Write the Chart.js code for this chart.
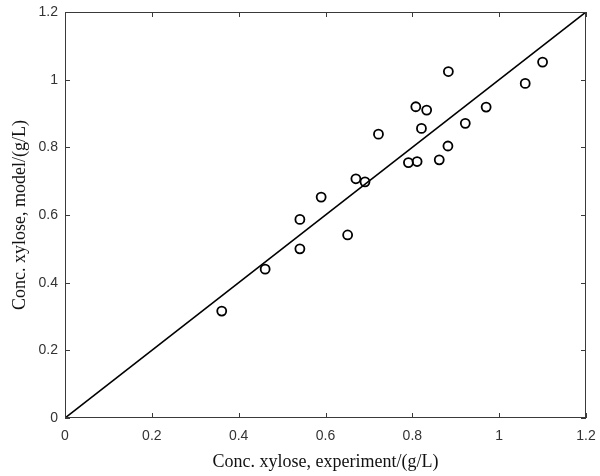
<!DOCTYPE html>
<html>
<head>
<meta charset="utf-8">
<script src="https://cdn.jsdelivr.net/npm/chart.js@4/dist/chart.umd.min.js"></script>
<style>
  html, body { margin: 0; padding: 0; background: #fff; }
  #wrap { width: 600px; height: 476px; }
</style>
</head>
<body>
<div id="wrap"><canvas id="chart" width="600" height="476"></canvas></div>
<script>
// measured vs model xylose (g/L)
const xExp   = [0.361, 0.461, 0.541, 0.541, 0.590, 0.651, 0.670, 0.691, 0.722, 0.791, 0.811, 0.808, 0.833, 0.821, 0.862, 0.882, 0.883, 0.922, 0.970, 1.060, 1.100];
const yModel = [0.316, 0.440, 0.587, 0.500, 0.653, 0.541, 0.707, 0.698, 0.839, 0.755, 0.758, 0.920, 0.910, 0.856, 0.763, 0.804, 1.024, 0.871, 0.919, 0.989, 1.052];

// y = x reference line
const lineX = [0, 1.2];
const lineY = [0, 1.2];

const tickValues = [0, 0.2, 0.4, 0.6, 0.8, 1, 1.2];
const tickLabels = ['0', '0.2', '0.4', '0.6', '0.8', '1', '1.2'];

const axisColor = '#3a3a3a';

// box around plot + inward ticks on all four sides (matlab style)
const frame = {
  id: 'frame',
  afterDraw(chart) {
    const { ctx, chartArea: a, scales } = chart;
    ctx.save();
    ctx.strokeStyle = axisColor;
    ctx.lineWidth = 1;
    ctx.strokeRect(a.left + 0.5, a.top + 0.5, a.right - a.left - 1, a.bottom - a.top - 1);
    const len = 5;
    ctx.beginPath();
    tickValues.forEach(v => {
      const px = Math.round(scales.x.getPixelForValue(v)) + 0.5;
      ctx.moveTo(px, a.bottom); ctx.lineTo(px, a.bottom - len);
      ctx.moveTo(px, a.top); ctx.lineTo(px, a.top + len);
      const py = Math.round(scales.y.getPixelForValue(v)) + 0.5;
      ctx.moveTo(a.left, py); ctx.lineTo(a.left + len, py);
      ctx.moveTo(a.right, py); ctx.lineTo(a.right - len, py);
    });
    ctx.stroke();
    ctx.restore();
  }
};

const setTicks = scale => { scale.ticks = tickValues.map(v => ({ value: v })); };

new Chart(document.getElementById('chart'), {
  data: {
    datasets: [
      {
        type: 'line',
        data: lineX.map((x, i) => ({ x, y: lineY[i] })),
        borderColor: '#000',
        borderWidth: 1.6,
        pointRadius: 0,
        fill: false
      },
      {
        type: 'scatter',
        data: xExp.map((x, i) => ({ x, y: yModel[i] })),
        pointStyle: 'circle',
        pointRadius: 4.5,
        backgroundColor: 'rgba(0,0,0,0)',
        borderColor: '#000',
        borderWidth: 1.8
      }
    ]
  },
  options: {
    responsive: false,
    animation: false,
    layout: { padding: { left: 0, right: 14, top: 12, bottom: 0 } },
    plugins: { legend: { display: false }, tooltip: { enabled: false } },
    scales: {
      x: {
        type: 'linear',
        min: 0, max: 1.2,
        afterBuildTicks: setTicks,
        afterFit: s => { s.height = 58; s.paddingLeft = 0; s.paddingRight = 0; },
        grid: { display: false, drawTicks: false },
        border: { display: false },
        ticks: {
          padding: 10,
          color: '#333',
          font: { family: 'Liberation Sans, Arial, sans-serif', size: 14 },
          callback: (v, i) => tickLabels[i]
        },
        title: {
          display: true,
          text: 'Conc. xylose, experiment/(g/L)',
          color: '#111',
          font: { family: 'Liberation Serif, Times New Roman, serif', size: 18 },
          padding: { top: 0, bottom: 3 }
        }
      },
      y: {
        type: 'linear',
        min: 0, max: 1.2,
        afterBuildTicks: setTicks,
        afterFit: s => { s.width = 65; s.paddingTop = 0; s.paddingBottom = 0; },
        grid: { display: false, drawTicks: false },
        border: { display: false },
        ticks: {
          padding: 7,
          color: '#333',
          font: { family: 'Liberation Sans, Arial, sans-serif', size: 14 },
          callback: (v, i) => tickLabels[i]
        },
        title: {
          display: true,
          text: 'Conc. xylose, model/(g/L)',
          color: '#111',
          font: { family: 'Liberation Serif, Times New Roman, serif', size: 18 },
          padding: { top: 9, bottom: 0 }
        }
      }
    }
  },
  plugins: [frame]
});
</script>
</body>
</html>
